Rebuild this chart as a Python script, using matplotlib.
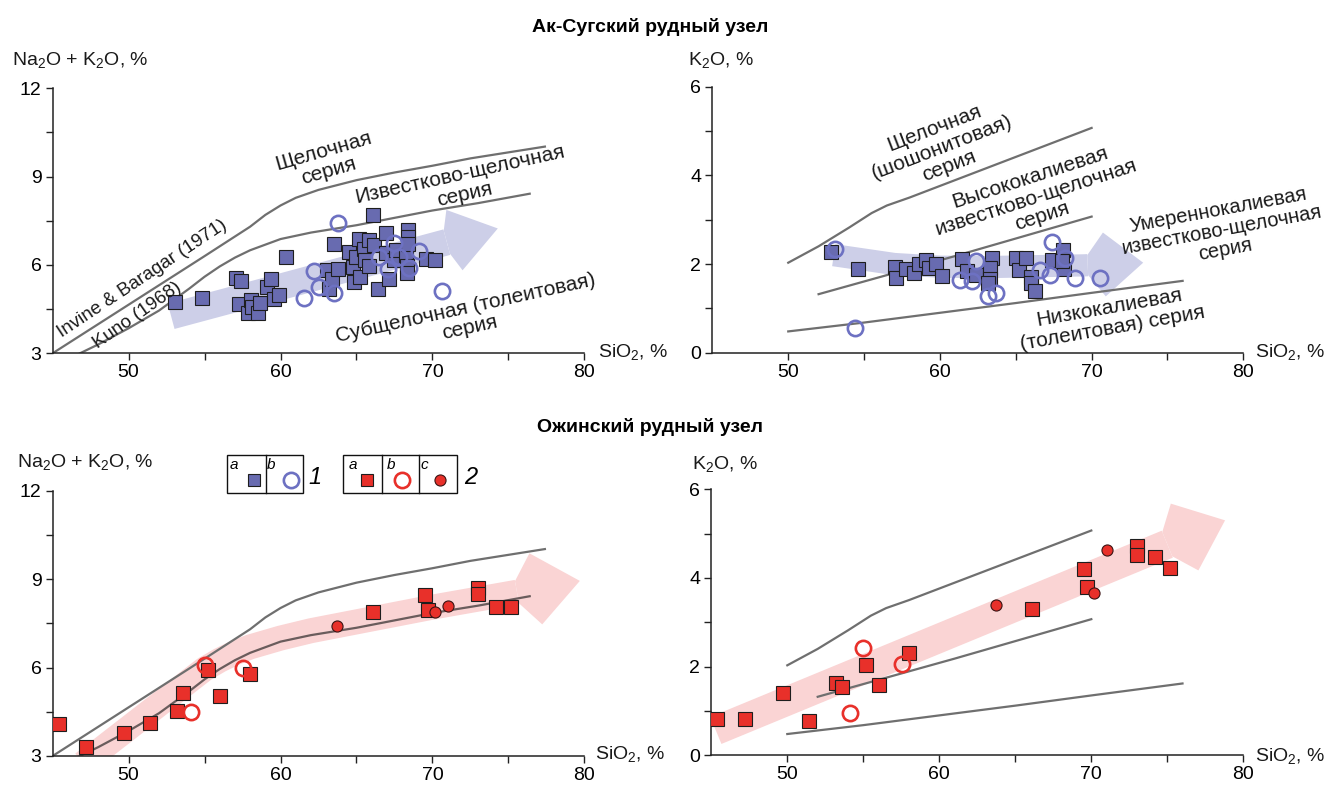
import matplotlib
matplotlib.use("Agg")
import matplotlib.pyplot as plt
import numpy as np
from matplotlib.lines import Line2D
from matplotlib.patches import Polygon, Rectangle

plt.rcParams["font.family"] = ["Liberation Sans", "DejaVu Sans"]
plt.rcParams["mathtext.fontset"] = "custom"
plt.rcParams["mathtext.rm"] = "Liberation Sans"
plt.rcParams["mathtext.it"] = "Liberation Sans:italic"

W, H = 1330, 787

# Цвета
BLUE_FILL = "#686bb0"
BLUE_RING = "#6d71c2"
RED = "#e8302a"
EDGE = "#1e1e1e"
LINE = "#6f6f6f"
BLUE_ARROW = "#cdcfe8"
PINK_ARROW = "#fad4d4"

# Ак-Сугский узел: SiO2 - Na2O+K2O
as_tas_sq_x = [53.05, 54.83, 57.1, 57.4, 57.3, 57.83, 58.05, 58.15, 58.55, 58.64,
               59.14, 59.37, 59.58, 59.91, 60.36, 63.03, 63.21, 63.39, 63.54, 63.76,
               64.49, 64.75, 64.86, 64.97, 65.15, 65.24, 65.52, 65.59, 65.85, 65.85,
               66.07, 66.12, 66.4, 66.95, 66.95, 67.17, 67.5, 67.61, 68.27, 68.3,
               68.3, 68.38, 68.38, 68.38, 69.59, 70.14]
as_tas_sq_y = [4.73, 4.87, 5.55, 5.44, 4.67, 4.36, 4.81, 4.58, 4.36, 4.70,
               5.24, 5.51, 4.83, 4.98, 6.26, 5.83, 5.17, 5.51, 6.71, 5.85,
               6.45, 5.92, 5.43, 6.26, 6.88, 5.58, 6.53, 6.17, 6.85, 5.96,
               7.70, 6.67, 5.17, 7.07, 6.42, 5.51, 6.17, 6.51, 6.34, 5.96,
               5.74, 7.19, 6.96, 6.71, 6.20, 6.17]
as_tas_ci_x = [61.56, 62.22, 62.51, 63.54, 63.76, 66.46, 67.06, 67.5, 67.79, 68.44, 69.1, 70.65]
as_tas_ci_y = [4.87, 5.80, 5.26, 5.04, 7.44, 6.26, 5.85, 6.73, 6.26, 5.89, 6.48, 5.13]

# Ак-Сугский узел: SiO2 - K2O
as_k_sq_x = [52.83, 54.6, 57.07, 57.1, 57.77, 58.3, 58.6, 59.05, 59.27, 59.76,
             60.15, 61.44, 61.8, 62.36, 63.42, 63.29, 63.29, 63.2, 65.0, 65.2,
             65.7, 66.0, 66.0, 66.27, 67.37, 68.13, 68.2, 68.05]
as_k_sq_y = [2.27, 1.88, 1.94, 1.69, 1.89, 1.80, 1.99, 2.09, 1.92, 2.01,
             1.74, 2.12, 1.84, 1.76, 2.14, 1.92, 1.67, 1.58, 2.13, 1.87,
             2.13, 1.71, 1.57, 1.39, 2.09, 2.32, 1.88, 2.07]
as_k_ci_x = [53.1, 54.4, 61.3, 62.14, 62.36, 63.2, 63.69, 66.6, 67.25, 67.37, 68.24, 68.9, 70.55]
as_k_ci_y = [2.35, 0.56, 1.65, 1.61, 2.07, 1.27, 1.35, 1.87, 1.75, 2.50, 2.13, 1.68, 1.68]

# Ожинский узел (общие SiO2)
oz_sq_sio2 = [45.4, 47.2, 49.7, 51.4, 53.2, 53.6, 55.2, 56.0, 58.0, 66.1,
              69.5, 69.7, 73.0, 73.0, 74.2, 75.2]
oz_sq_alk = [4.09, 3.32, 3.77, 4.11, 4.54, 5.13, 5.92, 5.02, 5.79, 7.88,
             8.46, 7.95, 8.71, 8.49, 8.07, 8.07]
oz_sq_k2o = [0.82, 0.82, 1.40, 0.77, 1.62, 1.55, 2.03, 1.59, 2.30, 3.31,
             4.20, 3.80, 4.71, 4.52, 4.47, 4.23]
oz_ci_sio2 = [55.0, 54.1, 57.55]
oz_ci_alk = [6.08, 4.49, 5.98]
oz_ci_k2o = [2.41, 0.96, 2.06]
oz_dot_sio2 = [63.7, 70.2, 71.05]
oz_dot_alk = [7.42, 7.90, 8.10]
oz_dot_k2o = [3.38, 3.67, 4.62]

# Граничные линии
ib_x = [45, 50, 55, 58, 59, 60, 61, 62.5, 65, 67.5, 70, 72.5, 77.4]
ib_y = [3.0, 4.65, 6.3, 7.3, 7.7, 8.02, 8.28, 8.55, 8.88, 9.14, 9.37, 9.62, 10.02]
kuno_x = [46.8, 48, 50, 52, 54, 55, 56, 57, 58, 60, 62, 65, 70, 73, 76.4]
kuno_y = [3.0, 3.3, 3.85, 4.45, 5.2, 5.6, 5.95, 6.25, 6.5, 6.88, 7.1, 7.35, 7.85, 8.1, 8.42]
sho_x = [50, 52, 54, 55.5, 56.5, 58, 70]
sho_y = [2.03, 2.4, 2.82, 3.15, 3.32, 3.5, 5.07]
hk_x = [52, 61, 70]
hk_y = [1.32, 2.18, 3.07]
th_x = [50, 55, 60, 65, 70, 76]
th_y = [0.48, 0.68, 0.9, 1.12, 1.35, 1.62]

# Стрелки трендов (последняя точка - острие)
arr_tl_x = [52.8, 74.3]
arr_tl_y = [4.26, 7.24]
arr_tr_x = [53.0, 55, 57, 60, 63, 66, 69.5, 73.4]
arr_tr_y = [2.2, 2.1, 2.0, 1.94, 1.93, 1.95, 1.97, 2.03]
arr_bl_x = [47.0, 48, 50, 52, 54, 55, 56, 57, 58, 60, 62, 65, 70, 75.5, 79.7]
arr_bl_y = [2.75, 3.15, 3.95, 4.75, 5.55, 5.95, 6.25, 6.5, 6.7, 7.0, 7.25, 7.55, 8.05, 8.55, 8.94]
arr_br_x = [45.3, 78.8]
arr_br_y = [0.56, 5.3]


def px(x, y):
    return x / W, 1 - y / H


def make_axes(fig, left, top, right, bottom, ylim, yticks, yminor):
    x0, y0 = px(left, bottom)
    x1, y1 = px(right, top)
    ax = fig.add_axes([x0, y0, x1 - x0, y1 - y0])
    ax.set_xlim(45, 80)
    ax.set_ylim(*ylim)
    ax.set_xticks([50, 60, 70, 80])
    ax.set_xticks([55, 65, 75], minor=True)
    ax.set_yticks(yticks)
    ax.set_yticks(yminor, minor=True)
    for side in ["top", "right"]:
        ax.spines[side].set_visible(False)
    for side in ["left", "bottom"]:
        ax.spines[side].set_linewidth(1.1)
        ax.spines[side].set_color("#222222")
    ax.tick_params(which="both", direction="out", length=5, width=1.0,
                   color="#222222", labelsize=14, pad=3)
    ax.patch.set_alpha(0)
    return ax


def draw_arrow(ax, xs, ys, body_pt, head_w_pt, head_len_pt, color, fwd=0.3):
    k = ax.figure.dpi / 72
    trans = ax.transData
    tip = trans.transform((xs[-1], ys[-1]))
    prev = trans.transform((xs[-2], ys[-2]))
    u = (tip - prev) / np.hypot(*(tip - prev))
    n = np.array([-u[1], u[0]])
    base = tip - u * head_len_pt * k
    bx, by = trans.inverted().transform(base)
    ax.plot(list(xs[:-1]) + [bx], list(ys[:-1]) + [by], color=color,
            lw=body_pt, solid_capstyle="butt", solid_joinstyle="round", zorder=1)
    hb = body_pt * k / 2 * 0.9
    hw = head_w_pt * k / 2
    f = head_len_pt * k * fwd
    pts = [base + n * hb, base + u * f + n * hw, tip, base + u * f - n * hw, base - n * hb]
    ax.add_patch(Polygon(trans.inverted().transform(pts), closed=True,
                         facecolor=color, edgecolor="none", zorder=1))


def squares(ax, x, y, fill):
    ax.plot(x, y, "s", ms=9.5, mfc=fill, mec=EDGE, mew=0.8, zorder=4)


def rings(ax, x, y, color):
    ax.plot(x, y, "o", ms=11, mfc="none", mec=color, mew=1.9, zorder=4)


def label(fig, x, y, s, size=15, rot=0, **kw):
    fx, fy = px(x, y)
    fig.text(fx, fy, s, fontsize=size, rotation=rot, rotation_mode="anchor",
             ha="center", va="center", multialignment="center",
             linespacing=1.1, color="#1a1a1a", **kw)


fig = plt.figure(figsize=(W / 100, H / 100), dpi=100)

# Ак-Суг, TAS
ax1 = make_axes(fig, 52.6, 88.3, 584.4, 353.3, (3, 12), [3, 6, 9, 12], [4.5, 7.5, 10.5])
draw_arrow(ax1, arr_tl_x, arr_tl_y, 19, 45, 38, BLUE_ARROW, fwd=0.15)
ax1.plot(ib_x, ib_y, color=LINE, lw=1.6, zorder=2)
ax1.plot(kuno_x, kuno_y, color=LINE, lw=1.6, zorder=2)
squares(ax1, as_tas_sq_x, as_tas_sq_y, BLUE_FILL)
rings(ax1, as_tas_ci_x, as_tas_ci_y, BLUE_RING)

# Ак-Суг, K2O
ax2 = make_axes(fig, 712.4, 86.7, 1243.3, 352.7, (0, 6), [0, 2, 4, 6], [1, 3, 5])
draw_arrow(ax2, arr_tr_x, arr_tr_y, 16, 46, 40, BLUE_ARROW)
for lx, ly in [(sho_x, sho_y), (hk_x, hk_y), (th_x, th_y)]:
    ax2.plot(lx, ly, color=LINE, lw=1.6, zorder=2)
squares(ax2, as_k_sq_x, as_k_sq_y, BLUE_FILL)
rings(ax2, as_k_ci_x, as_k_ci_y, BLUE_RING)

# Ожинский, TAS
ax3 = make_axes(fig, 52.6, 490.7, 584.4, 756.0, (3, 12), [3, 6, 9, 12], [4.5, 7.5, 10.5])
draw_arrow(ax3, arr_bl_x, arr_bl_y, 18, 52, 46, PINK_ARROW)
ax3.plot(ib_x, ib_y, color=LINE, lw=1.6, zorder=2)
ax3.plot(kuno_x, kuno_y, color="#6a5c5c", lw=1.6, zorder=2)
squares(ax3, oz_sq_sio2, oz_sq_alk, RED)
rings(ax3, oz_ci_sio2, oz_ci_alk, RED)
ax3.plot(oz_dot_sio2, oz_dot_alk, "o", ms=8, mfc=RED, mec="#3a1414", mew=0.8, zorder=4)

# Ожинский, K2O
ax4 = make_axes(fig, 711.3, 489.3, 1243.3, 755.3, (0, 6), [0, 2, 4, 6], [1, 3, 5])
draw_arrow(ax4, arr_br_x, arr_br_y, 21, 52, 45, PINK_ARROW)
for lx, ly in [(sho_x, sho_y), (hk_x, hk_y), (th_x, th_y)]:
    ax4.plot(lx, ly, color=LINE, lw=1.6, zorder=2)
squares(ax4, oz_sq_sio2, oz_sq_k2o, RED)
rings(ax4, oz_ci_sio2, oz_ci_k2o, RED)
ax4.plot(oz_dot_sio2, oz_dot_k2o, "o", ms=8, mfc=RED, mec="#3a1414", mew=0.8, zorder=4)

# Заголовки
fig.text(*px(650, 27), "Ак-Сугский рудный узел", fontsize=14, fontweight="bold",
         ha="center", va="center")
fig.text(*px(650, 427), "Ожинский рудный узел", fontsize=14, fontweight="bold",
         ha="center", va="center")

# Подписи осей
for x, y, s in [(12, 60, "Na$_2$O + K$_2$O, %"), (598, 352, "SiO$_2$, %"),
                (688, 60, "K$_2$O, %"), (1255, 352, "SiO$_2$, %"),
                (17, 462, "Na$_2$O + K$_2$O, %"), (595, 754, "SiO$_2$, %"),
                (692, 464, "K$_2$O, %"), (1255, 756, "SiO$_2$, %")]:
    fig.text(*px(x, y), s, fontsize=14, ha="left", va="center", color="#1a1a1a")

# Надписи на диаграммах
label(fig, 326, 161, "Щелочная\nсерия", rot=16)
label(fig, 462, 185, "Известково-щелочная\nсерия", rot=12.5)
label(fig, 142, 279, "Invine & Baragar (1971)", size=13.5, rot=33.6)
label(fig, 137, 315, "Kuno (1968)", size=13.5, rot=35)
label(fig, 468, 318, "Субщелочная (толеитовая)\nсерия", rot=12.4)
label(fig, 942, 147, "Щелочная\n(шошонитовая)\nсерия", rot=21)
label(fig, 1036, 197, "Высококалиевая\nизвестково-щелочная\nсерия", rot=18)
label(fig, 1222, 230, "Умереннокалиевая\nизвестково-щелочная\nсерия", size=14.5, rot=10.5)
label(fig, 1111, 318, "Низкокалиевая\n(толеитовая) серия", rot=10)

# Легенда
for x0, x1, divs in [(226.7, 302.7, [265.7]), (343.3, 457.3, [381.7, 419.3])]:
    fx0, fy0 = px(x0, 493.3)
    fx1, fy1 = px(x1, 455)
    fig.add_artist(Rectangle((fx0, fy0), fx1 - fx0, fy1 - fy0, transform=fig.transFigure,
                             fill=False, edgecolor="#111111", lw=1.0))
    for d in divs:
        fd, _ = px(d, 0)
        fig.add_artist(Line2D([fd, fd], [fy0, fy1], transform=fig.transFigure,
                              color="#111111", lw=1.0))

legend_marks = [
    (254.3, "s", dict(ms=9, mfc=BLUE_FILL, mec=EDGE, mew=0.8)),
    (290.7, "o", dict(ms=11, mfc="none", mec=BLUE_RING, mew=1.9)),
    (366.7, "s", dict(ms=9, mfc=RED, mec=EDGE, mew=0.8)),
    (401.7, "o", dict(ms=11, mfc="none", mec=RED, mew=1.9)),
    (440.0, "o", dict(ms=8, mfc=RED, mec="#3a1414", mew=0.8)),
]
for x, m, style in legend_marks:
    fx, fy = px(x, 479.5)
    fig.add_artist(Line2D([fx], [fy], marker=m, transform=fig.transFigure, **style))

for x, s in [(234, "a"), (270.7, "b"), (352.7, "a"), (390.7, "b"), (424, "c")]:
    fig.text(*px(x, 465), s, fontsize=11, style="italic", ha="center", va="center")
for x, s in [(315, "1"), (470.7, "2")]:
    fig.text(*px(x, 477), s, fontsize=17, style="italic", ha="center", va="center")

fig.savefig("out.png", dpi=100)
